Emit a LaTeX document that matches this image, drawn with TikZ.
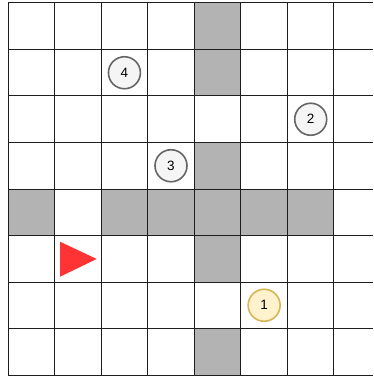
\documentclass[tikz,border=0pt]{standalone}
\usepackage{fontspec}
\setmainfont{Liberation Sans}
\usetikzlibrary{positioning}
\definecolor{WallGray}{RGB}{179,179,179}
\definecolor{GridLine}{RGB}{30,30,30}
\definecolor{MarkFill}{RGB}{245,245,245}
\definecolor{MarkLine}{RGB}{102,102,102}
\definecolor{GoalFill}{RGB}{255,242,204}
\definecolor{GoalLine}{RGB}{214,182,86}
\definecolor{ArrowRed}{RGB}{255,51,51}

\begin{document}
\begin{tikzpicture}[x=46.57pt, y=-46.5pt,
    waypoint/.style={circle, draw=MarkLine, fill=MarkFill, line width=1.6pt,
      minimum size=32pt, inner sep=0pt, font=\fontsize{13.5}{15}\selectfont}]
      \useasboundingbox (-0.1718,-0.0645) rectangle (7.838,8.0215);
      % walls
      \foreach \c/\r in {4/0,4/1,4/3,0/4,2/4,3/4,4/4,5/4,6/4,4/5,4/7}
        \fill[WallGray] (\c,\r) rectangle ++(1,1);
      % grid
      \foreach \r in {0,...,8} \draw[GridLine, line width=1pt] (0,\r) -- (7.838,\r);
      \foreach \c in {0,...,7} \draw[GridLine, line width=1pt] (\c,0) -- (\c,8);
      % waypoints
      \node[waypoint] (wp4) at (2.5,1.5) {4};
      \node[waypoint] (wp2) at (6.5,2.5) {2};
      \node[waypoint] (wp3) at (3.5,3.5) {3};
      \node[waypoint, draw=GoalLine, fill=GoalFill] (wp1) at (5.5,6.5) {1};
      % robot heading
      \fill[ArrowRed] (1.117,5.133) -- (1.905,5.505) -- (1.117,5.886) -- cycle;
    \end{tikzpicture}
\end{document}
